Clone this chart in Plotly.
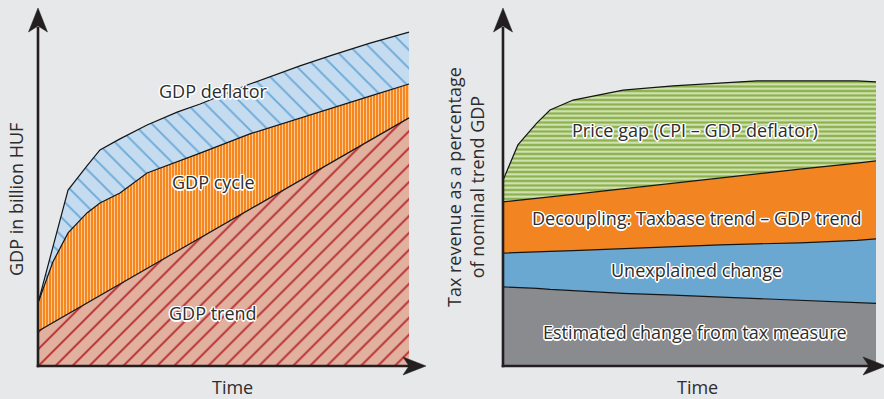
import plotly.graph_objects as go

# ---------------- data ----------------
# Left panel: nominal GDP decomposition (time index 0-100, arbitrary GDP units)
left_time = [0, 4.0, 8.1, 13.2, 16.7, 22.1, 29.4, 37.5, 43.7, 57.1, 70.6, 79.5, 89.5, 100]
gdp_trend = [9.8, 12.2, 14.7, 17.7, 19.8, 23.1, 27.4, 32.2, 36.0, 44.0, 52.1, 57.4, 63.4, 69.7]
gdp_cycle = [7.9, 17.0, 22.7, 25.3, 26.0, 25.5, 26.8, 25.1, 23.8, 21.2, 17.6, 15.1, 12.4, 9.5]
gdp_deflator = [0, 4.5, 12.0, 13.2, 14.9, 15.2, 13.5, 14.0, 13.8, 14.0, 14.6, 14.9, 14.9, 14.6]

# Right panel: tax revenue as % of nominal trend GDP
right_time = [0, 4.0, 9.1, 12.6, 18.8, 32.2, 45.6, 58.2, 68.1, 79.6, 94.9, 100]
tax_measure = [22.2, 22.05, 21.8, 21.5, 21.1, 20.4, 19.9, 19.4, 19.0, 18.5, 18.0, 17.6]
unexplained = [9.5, 9.85, 10.2, 10.7, 11.3, 12.6, 13.7, 14.6, 15.3, 16.1, 17.3, 18.1]
decoupling = [14.4, 14.6, 15.1, 15.3, 15.8, 16.8, 17.7, 18.8, 19.6, 20.7, 21.7, 21.9]
price_gap = [6.1, 15.6, 21.2, 24.4, 26.5, 27.7, 27.4, 26.7, 26.2, 24.8, 23.1, 22.2]

left_labels = ["GDP trend", "GDP cycle", "GDP deflator"]
right_labels = ["Estimated change from tax measure", "Unexplained change",
                "Decoupling: Taxbase trend – GDP trend", "Price gap (CPI – GDP deflator)"]

# ---------------- styling ----------------
W, H = 884, 399
BG = "#e7e8ea"
AX = "#231f20"
EDGE = "#151515"
FONT = "Open Sans"
TXT = "#2d2d2d"
HALO = ("1px 1px 0 #ffffff, -1px -1px 0 #ffffff, 1px -1px 0 #ffffff, -1px 1px 0 #ffffff, "
        "0 1.5px 0 #ffffff, 0 -1.5px 0 #ffffff, 1.5px 0 0 #ffffff, -1.5px 0 0 #ffffff")

fig = go.Figure()

left_styles = [
    dict(shape="/", bgcolor="#e1b09f", fgcolor="#b5272b", size=12, solidity=0.15),
    dict(shape="|", bgcolor="#f6861e", fgcolor="#fdc793", size=3, solidity=0.34),
    dict(shape="\\", bgcolor="#c4dbf0", fgcolor="#6aa9d7", size=13, solidity=0.14),
]
for name, vals, st in zip(left_labels, [gdp_trend, gdp_cycle, gdp_deflator], left_styles):
    fig.add_trace(go.Scatter(
        x=left_time, y=vals, name=name, mode="lines", stackgroup="left",
        line=dict(color=EDGE, width=1.2), fillcolor=st["bgcolor"],
        fillpattern=dict(fillmode="replace", **st),
        xaxis="x", yaxis="y", hoverinfo="skip"))

right_styles = [
    dict(fillcolor="#8a8b8f", pattern=None),
    dict(fillcolor="#6aa8d1", pattern=None),
    dict(fillcolor="#f28421", pattern=None),
    dict(fillcolor="#8db14f", pattern=dict(shape="-", bgcolor="#8db14f", fgcolor="#d6e7b9",
                                          size=4.5, solidity=0.45, fillmode="replace")),
]
for name, vals, st in zip(right_labels, [tax_measure, unexplained, decoupling, price_gap], right_styles):
    kw = {}
    if st["pattern"]:
        kw["fillpattern"] = st["pattern"]
    fig.add_trace(go.Scatter(
        x=right_time, y=vals, name=name, mode="lines", stackgroup="right",
        line=dict(color=EDGE, width=1.2), fillcolor=st["fillcolor"],
        xaxis="x2", yaxis="y2", hoverinfo="skip", **kw))

# axis geometry (pixel based)
y_dom = [(H - 366) / H, (H - 10) / H]
lx0, lx1, ldata = 38, 425, 409
rx0, rx1, rdata = 503, 884, 876
lmax = 100 * (lx1 - lx0) / (ldata - lx0)
rmax = 100 * (rx1 - rx0) / (rdata - rx0)

hidden = dict(showgrid=False, zeroline=False, showticklabels=False, showline=False, ticks="")
fig.update_layout(
    width=W, height=H, margin=dict(l=0, r=0, t=0, b=0),
    paper_bgcolor=BG, plot_bgcolor=BG, showlegend=False, hovermode=False,
    font=dict(family=FONT, size=18, color=TXT),
    xaxis=dict(domain=[lx0 / W, lx1 / W], range=[0, lmax], anchor="y", **hidden),
    yaxis=dict(domain=y_dom, range=[0, 100], anchor="x", **hidden),
    xaxis2=dict(domain=[rx0 / W, rx1 / W], range=[0, rmax], anchor="y2", **hidden),
    yaxis2=dict(domain=y_dom, range=[0, 100], anchor="x2", **hidden),
)

# axis lines with notched arrowheads (drawn in paper coords from pixel positions)
def P(px, py):
    return f"{px / W:.5f},{(H - py) / H:.5f}"

shapes = []
AXY = 366
for x0, xtip in [(38, 426), (503, 886)]:
    shapes.append(dict(type="path", xref="paper", yref="paper",
                       path=f"M{P(x0, AXY + 1.3)}L{P(x0, 27)}",
                       line=dict(color=AX, width=2.6)))
    shapes.append(dict(type="path", xref="paper", yref="paper",
                       path=f"M{P(x0, 8)}L{P(x0 + 9.5, 32)}L{P(x0, 26)}L{P(x0 - 9.5, 32)}Z",
                       fillcolor=AX, line=dict(color=AX, width=0.5)))
    shapes.append(dict(type="path", xref="paper", yref="paper",
                       path=f"M{P(x0 - 1.3, AXY)}L{P(xtip - 17, AXY)}",
                       line=dict(color=AX, width=2.6)))
    shapes.append(dict(type="path", xref="paper", yref="paper",
                       path=(f"M{P(xtip, AXY)}L{P(xtip - 23, AXY - 9)}L{P(xtip - 17, AXY)}"
                             f"L{P(xtip - 23, AXY + 9)}Z"),
                       fillcolor=AX, line=dict(color=AX, width=0.5)))

anns = []

def label(text, x, y, xr, yr):
    anns.append(dict(x=x, y=y, xref=xr, yref=yr, text=text, showarrow=False,
                     xanchor="center", yanchor="middle",
                     font=dict(family=FONT, size=18, color=TXT, shadow=HALO)))

label(left_labels[2], 47.2, 77.2, "x", "y")
label(left_labels[1], 47.2, 51.7, "x", "y")
label(left_labels[0], 47.2, 14.9, "x", "y")
label(right_labels[3], 51.5, 66.3, "x2", "y2")
label(right_labels[2], 52.0, 41.6, "x2", "y2")
label(right_labels[1], 52.0, 27.0, "x2", "y2")
label(right_labels[0], 51.5, 9.6, "x2", "y2")

def title(text, px, py, angle=0):
    anns.append(dict(x=px / W, y=(H - py) / H, xref="paper", yref="paper", text=text,
                     textangle=angle, showarrow=False, xanchor="center", yanchor="middle",
                     borderpad=0, font=dict(family=FONT, size=18, color=TXT)))

title("Time", 232, 386.5)
title("Time", 697, 386.5)
title("GDP in billion HUF", 16, 200, -90)
title("Tax revenue as a percentage<br>of nominal trend GDP", 465, 187, -90)

fig.update_layout(annotations=anns, shapes=shapes)
fig.write_html("out.html")
